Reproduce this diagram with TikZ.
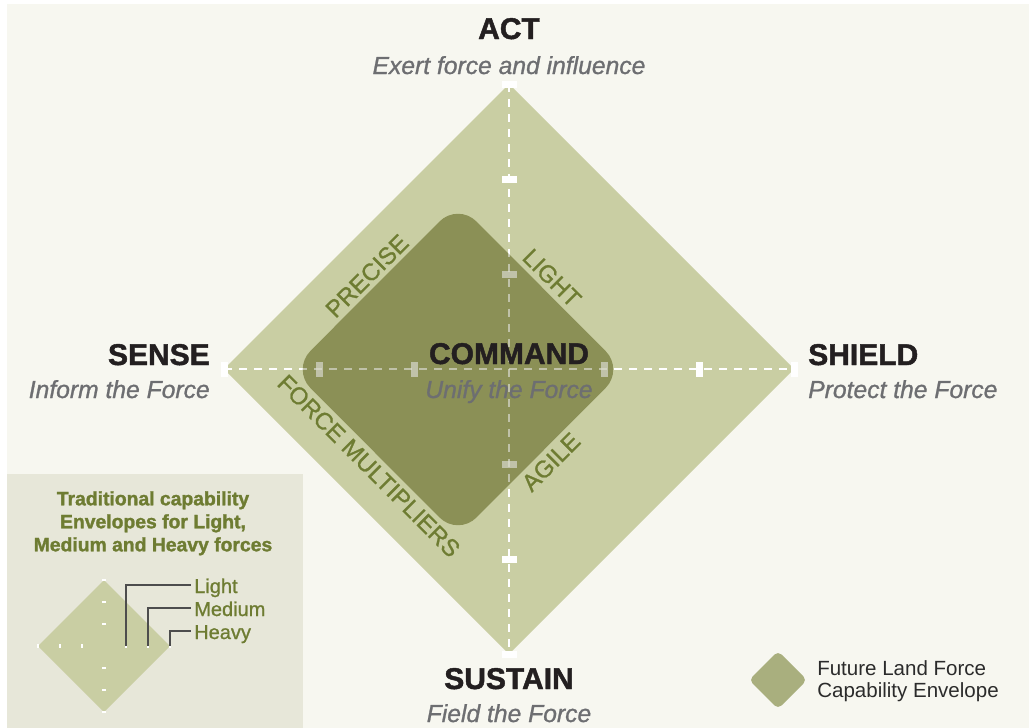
\documentclass[tikz,border=0pt]{standalone}
\usepackage{fontspec}
\setmainfont{Liberation Sans}
\newfontfamily\heavyfont[BoldFeatures={FakeBold=1.5}]{Liberation Sans}
\newfontfamily\medfont[FakeBold=1]{Liberation Sans}
\definecolor{pagebg}{HTML}{F7F7F0}
\definecolor{legbg}{HTML}{E7E7D9}
\definecolor{outerenv}{HTML}{C9CEA3}
\definecolor{innerenv}{HTML}{4F540B}
\definecolor{futureenv}{HTML}{A9AF7E}
\definecolor{olivetext}{HTML}{6E7C32}
\definecolor{subgrey}{HTML}{6D6E71}
\definecolor{inkblack}{HTML}{231F20}
\definecolor{leadgrey}{HTML}{4D4D4D}
\definecolor{keyink}{HTML}{2B2B2B}
\begin{document}
\begin{tikzpicture}[x=0.75pt,y=-0.75pt,
	head/.style={font=\fontsize{22.5}{27}\heavyfont\bfseries,text=inkblack,inner sep=0pt},
	sub/.style={font=\fontsize{18.5}{22}\medfont\itshape,text=subgrey,inner sep=0pt},
	edgelbl/.style={font=\fontsize{18}{22}\medfont,text=olivetext,inner sep=0pt},
	axisline/.style={white,line width=1.5pt,dash pattern=on 6pt off 5.25pt},
	tickmark/.style={fill=white},
	keylbl/.style={font=\fontsize{15}{18}\medfont,text=olivetext,anchor=west,inner xsep=2.25pt,inner ysep=0pt,text height=12pt,text depth=0pt},
	leader/.style={draw=leadgrey,line width=1pt}]
			\useasboundingbox (0,0) rectangle (1029,728);
			\fill[white] (0,0) rectangle (1029,728);
			\fill[pagebg] (7,4) rectangle (1029,728);
			% outer envelope and axes
			\coordinate (top) at (509,84);
			\coordinate (bot) at (509,654);
			\coordinate (lft) at (224,369);
			\coordinate (rgt) at (794,369);
			\fill[outerenv] (top) -- (rgt) -- (bot) -- (lft) -- cycle;
			\draw[axisline] (lft) -- (rgt);
			\draw[axisline] (top) -- (bot);
			\foreach \d in {-285,-190,-95,95,190,285} {
				\fill[tickmark,shift={(509,369+\d)}] (-7.5,-3.5) rectangle (7.5,3.5);
				\fill[tickmark,shift={(509+\d,369)}] (-3.5,-7.5) rectangle (3.5,7.5);
			}
			% inner envelope, axes showing through
			\fill[innerenv,fill opacity=.5,rounded corners=19.5pt] (375,286) -- (458,203) -- (624,369.5) -- (458,536) -- (292,369.5) -- cycle;
			\begin{scope}[opacity=.3]
			\clip[rounded corners=19.5pt] (375,286) -- (458,203) -- (624,369.5) -- (458,536) -- (292,369.5) -- cycle;
			\draw[axisline] (lft) -- (rgt);
			\draw[axisline] (top) -- (bot);
			\foreach \d in {-95,95,190} {
				\fill[tickmark,shift={(509,369+\d)}] (-7.5,-3.5) rectangle (7.5,3.5);
				\fill[tickmark,shift={(509-\d,369)}] (-3.5,-7.5) rectangle (3.5,7.5);
			}
			\end{scope}
			\node[edgelbl,rotate=45] (precise) at (367,276) {PRECISE};
			\node[edgelbl,rotate=-45] (light) at (552,278) {LIGHT};
			\node[edgelbl,rotate=45] (agile) at (551,462) {AGILE};
			\node[edgelbl,rotate=-45] (multipliers) at (369,466) {FORCE MULTIPLIERS};
			% functions
			\node[head,anchor=base] (act) at (509,39) {ACT};
			\node[sub,anchor=base] (actsub) at (509,74) {Exert force and influence};
			\node[head,anchor=base east] (sense) at (210,365) {SENSE};
			\node[sub,anchor=base east] (sensesub) at (210,398) {Inform the Force};
			\node[head,anchor=base west] (shield) at (808,365) {SHIELD};
			\node[sub,anchor=base west] (shieldsub) at (808,398) {Protect the Force};
			\node[head,anchor=base] (command) at (509,364) {COMMAND};
			\node[sub,anchor=base] (commandsub) at (509,398) {Unify the Force};
			\node[head,anchor=base] (sustain) at (509,689) {SUSTAIN};
			\node[sub,anchor=base] (sustainsub) at (509,722) {Field the Force};
			% key: traditional envelopes
			\fill[legbg] (7,474) rectangle (303,728);
			\node[font=\fontsize{14.5}{17.25}\heavyfont\bfseries,text=olivetext,align=center,anchor=north,inner sep=0pt] (keytitle) at (153,491) {Traditional capability\\Envelopes for Light,\\Medium and Heavy forces};
			\fill[outerenv] (104,580) -- (170,646) -- (104,712) -- (38,646) -- cycle;
			\foreach \d in {-66,-44,-22,22,44,66} {
				\fill[tickmark,shift={(104+\d,646)}] (-1,-2) rectangle (1,2);
				\fill[tickmark,shift={(104,646+\d)}] (-2,-1) rectangle (2,1);
			}
			\coordinate (keyL) at (126,646);
			\coordinate (keyM) at (148,646);
			\coordinate (keyH) at (170,646);
			\node[keylbl] (lblLight) at (191,585) {Light};
			\node[keylbl] (lblMedium) at (191,608) {Medium};
			\node[keylbl] (lblHeavy) at (191,631) {Heavy};
			\draw[leader] (keyL) |- (lblLight.west);
			\draw[leader] (keyM) |- (lblMedium.west);
			\draw[leader] (keyH) |- (lblHeavy.west);
			% key: future envelope
			\fill[futureenv,rounded corners=3.75pt] (763.5,665.5) -- (778,651) -- (807,680) -- (778,709) -- (749,680) -- cycle;
			\node[font=\fontsize{15.4}{16.5}\selectfont,text=keyink,align=left,anchor=north west,inner sep=0pt] (keyfuture) at (817,660.4) {Future Land Force\\Capability Envelope};
			\end{tikzpicture}
\end{document}
